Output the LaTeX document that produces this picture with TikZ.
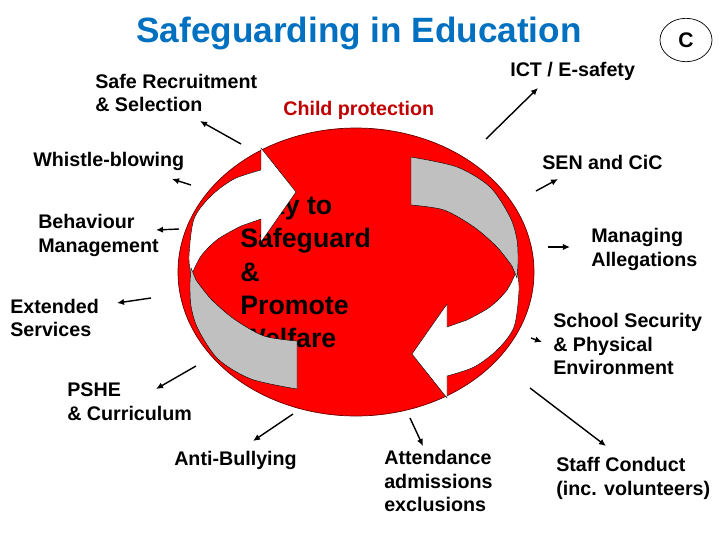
\documentclass[tikz,border=0pt]{standalone}
\usepackage{fontspec}
\setmainfont{Liberation Sans}
\usetikzlibrary{arrows.meta,shapes.geometric}
\definecolor{titleblue}{RGB}{0,112,192}
\definecolor{cpred}{RGB}{192,0,0}
\definecolor{ribbon}{RGB}{192,192,192}
\begin{document}
\begin{tikzpicture}[x=0.025cm,y=-0.025cm,smooth,
    lab/.style={anchor=west,align=left,inner sep=0pt,font=\fontsize{14}{17}\selectfont\bfseries},
    pt/.style={-{Latex[length=5pt,width=4.5pt]},line width=1pt},
    band/.style={draw=black,line width=0.3pt}]
    \useasboundingbox[fill=white] (0,0) rectangle (720,540);
    \def\tail{plot coordinates {(411,157) (457,167) (490,187) (510,217) (517,240) (518,262) (517,278)}
        -- plot coordinates {(512,266) (497,247) (474,227) (444,210) (411,205)} -- cycle}
    \def\head{plot coordinates {(517,270) (519,290) (514,327) (497,350) (474,367) (447,376)}
        -- (447,398) -- (412,354) -- (447,304) -- (447,327)
        -- plot coordinates {(467,320) (490,307) (507,290) (517,270)} -- cycle}
    % red disc and the words under the ribbons
    \fill[red,draw=black!60!red,line width=0.5pt] plot[smooth cycle,domain=0:355,samples=72]
        ({356+178*cos(\x)},{272+144*sin(\x)});
    \node[anchor=west,align=left,inner sep=0pt,font=\fontsize{19}{23.6}\selectfont\bfseries] (duty) at (240,272)
        {Duty to\\Safeguard\\\&\\Promote\\Welfare};
    \foreach \r in {0,180}{
        \draw[band,fill=white,rotate around={\r:(354,273)}] \head;
        \draw[band,fill=ribbon,rotate around={\r:(354,273)}] \tail;
    }
    % title
    \node[text=titleblue,font=\fontsize{25}{30}\selectfont\bfseries] (title) at (359,33) {Safeguarding in Education};
    \node[draw,ellipse,minimum width=1.3cm,minimum height=1.085cm,inner sep=0pt,line width=0.5pt,
        font=\fontsize{15}{18}\selectfont\bfseries] (cmark) at (686,40) {C};
    % labels
    \node[lab] (recruit) at (95,93) {Safe Recruitment\\\& Selection};
    \node[lab] (ict) at (510,71) {ICT / E-safety};
    \node[lab,text=cpred] (child) at (283,110) {Child protection};
    \node[lab] (whistle) at (33,161) {Whistle-blowing};
    \node[lab] (sen) at (542,162) {SEN and CiC};
    \node[lab] (behav) at (38,235) {Behaviour\\Management};
    \node[lab] (manage) at (591,249) {Managing\\Allegations};
    \node[lab] (extend) at (10,318) {Extended\\Services};
    \node[lab] (school) at (553,344) {School Security\\\& Physical\\Environment};
    \node[lab] (pshe) at (67,402) {PSHE\\\& Curriculum};
    \node[lab] (anti) at (174,460) {Anti-Bullying};
    \node[lab] (attend) at (384,481) {Attendance\\admissions\\exclusions};
    \node[lab] (staff) at (556,478) {Staff Conduct\\(inc. volunteers)};
    % arrows
    \coordinate (recruit-s) at (241,144); \coordinate (recruit-t) at (200,121);
    \coordinate (ict-s) at (486,139); \coordinate (ict-t) at (538,88);
    \coordinate (whistle-s) at (191,185); \coordinate (whistle-t) at (172,179);
    \coordinate (sen-s) at (536,191); \coordinate (sen-t) at (558,179);
    \coordinate (behav-s) at (179,229); \coordinate (behav-t) at (156,230);
    \coordinate (manage-s) at (548,247); \coordinate (manage-t) at (570,247);
    \coordinate (extend-s) at (151,298); \coordinate (extend-t) at (117,303);
    \coordinate (school-s) at (531,338); \coordinate (school-t) at (542,342);
    \coordinate (pshe-s) at (196,366); \coordinate (pshe-t) at (156,389);
    \coordinate (anti-s) at (293,414); \coordinate (anti-t) at (253,441);
    \coordinate (attend-s) at (410,418); \coordinate (attend-t) at (423,446);
    \coordinate (staff-s) at (530,388); \coordinate (staff-t) at (606,446);
    \foreach \n in {recruit,ict,whistle,sen,behav,manage,extend,school,pshe,anti,attend,staff}
        \draw[pt] (\n-s) -- (\n-t);
\end{tikzpicture}
\end{document}
